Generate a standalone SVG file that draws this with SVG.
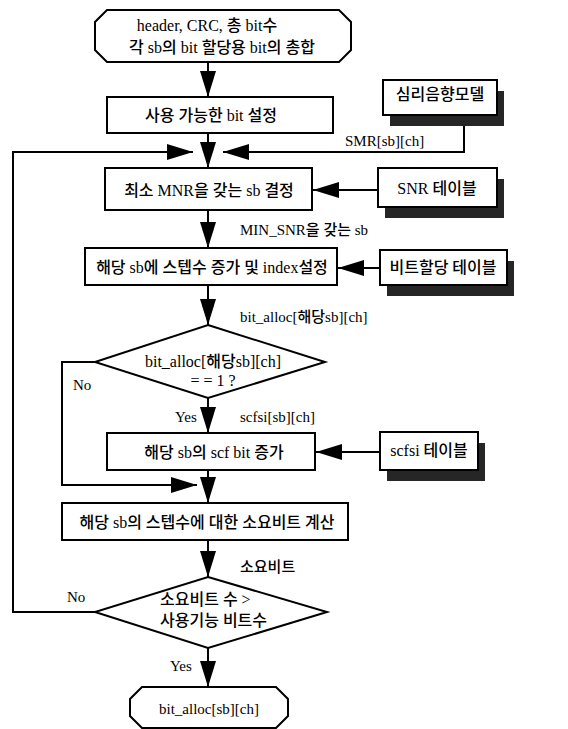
<svg xmlns="http://www.w3.org/2000/svg" width="568" height="729" viewBox="0 0 568 729">
<style>
  .shape { fill: #fff; stroke: #000; stroke-width: 2; }
  .shadow { fill: #262626; stroke: none; }
  .conn { fill: none; stroke: #000; stroke-width: 2; }
  text { font-family: "Liberation Serif", "Noto Sans CJK KR", serif; font-size: 16px; font-weight: 500; fill: #000; }
  .lbl { font-size: 15px; }
  .c { text-anchor: middle; }
</style>
<defs>
  <marker id="arr" markerUnits="userSpaceOnUse" markerWidth="27" markerHeight="16" refX="26" refY="8" orient="auto">
    <path d="M0,0 L26,8 L0,16 Z" fill="#000"/>
  </marker>
</defs>
<rect width="568" height="729" fill="#fff"/>

<g id="connectors">
  <line class="conn" x1="208" y1="62" x2="208" y2="97" marker-end="url(#arr)"/>
  <line class="conn" x1="208" y1="133" x2="208" y2="168" marker-end="url(#arr)"/>
  <path class="conn" d="M95,612 H13 V152 H193" marker-end="url(#arr)"/>
  <path class="conn" d="M464,115 V152 H223" marker-end="url(#arr)"/>
  <line class="conn" x1="378" y1="190" x2="313" y2="190" marker-end="url(#arr)"/>
  <line class="conn" x1="208" y1="210" x2="208" y2="248" marker-end="url(#arr)"/>
  <line class="conn" x1="380" y1="268" x2="338" y2="268" marker-end="url(#arr)"/>
  <line class="conn" x1="208" y1="285" x2="208" y2="325" marker-end="url(#arr)"/>
  <line class="conn" x1="208" y1="398" x2="208" y2="433" marker-end="url(#arr)"/>
  <path class="conn" d="M95,362 H62 V485 H197" marker-end="url(#arr)"/>
  <line class="conn" x1="380" y1="452" x2="316" y2="452" marker-end="url(#arr)"/>
  <line class="conn" x1="208" y1="470" x2="208" y2="503" marker-end="url(#arr)"/>
  <line class="conn" x1="208" y1="540" x2="208" y2="577" marker-end="url(#arr)"/>
  <line class="conn" x1="208" y1="648" x2="208" y2="687" marker-end="url(#arr)"/>
  <text class="lbl" x="345" y="146">SMR[sb][ch]</text>
  <text class="lbl" x="240" y="235">MIN_SNR을 갖는 sb</text>
  <text class="lbl" x="240" y="322">bit_alloc[해당sb][ch]</text>
  <text class="lbl" x="73" y="390">No</text>
  <text class="lbl" x="175" y="422">Yes</text>
  <text class="lbl" x="240" y="422">scfsi[sb][ch]</text>
  <text class="lbl" x="240" y="572">소요비트</text>
  <text class="lbl" x="67" y="602">No</text>
  <text class="lbl" x="170" y="671">Yes</text>
</g>

<g id="start">
  <polygon class="shape" points="107,10 339,10 351,22 351,50 339,62 107,62 95,50 95,22"/>
  <text class="c" x="207" y="31">header, CRC, 총 bit수</text>
  <text class="c" x="222" y="53">각 sb의 bit 할당용 bit의 총합</text>
</g>

<g id="set-bits">
  <rect class="shape" x="107" y="97" width="226" height="36"/>
  <text class="c" x="211" y="121">사용 가능한 bit 설정</text>
</g>

<g id="psy-model">
  <rect class="shadow" x="390" y="91" width="114" height="35"/>
  <rect class="shape" x="383" y="80" width="114" height="35"/>
  <text class="c" x="440" y="100">심리음향모델</text>
</g>

<g id="min-mnr">
  <rect class="shape" x="105" y="168" width="207" height="42"/>
  <text class="c" x="209" y="196">최소 MNR을 갖는 sb 결정</text>
</g>

<g id="snr-table">
  <rect class="shadow" x="385" y="179" width="119" height="39"/>
  <rect class="shape" x="378" y="168" width="119" height="39"/>
  <text class="c" x="437" y="194">SNR 테이블</text>
</g>

<g id="inc-step">
  <rect class="shape" x="85" y="248" width="252" height="37"/>
  <text class="c" x="212" y="273">해당 sb에 스텝수 증가 및 index설정</text>
</g>

<g id="alloc-table">
  <rect class="shadow" x="387" y="261" width="127" height="35"/>
  <rect class="shape" x="380" y="250" width="127" height="35"/>
  <text class="c" x="443" y="273">비트할당 테이블</text>
</g>

<g id="check-alloc">
  <polygon class="shape" points="208,325 325,362 208,398 95,362"/>
  <text class="c" x="213" y="367">bit_alloc[해당sb][ch]</text>
  <text class="c" x="213" y="386">= = 1 ?</text>
</g>

<g id="inc-scf">
  <rect class="shape" x="107" y="433" width="208" height="37"/>
  <text class="c" x="214" y="458">해당 sb의 scf bit 증가</text>
</g>

<g id="scfsi-table">
  <rect class="shadow" x="387" y="443" width="98" height="38"/>
  <rect class="shape" x="380" y="432" width="98" height="38"/>
  <text class="c" x="429" y="456">scfsi 테이블</text>
</g>

<g id="calc-bits">
  <rect class="shape" x="62" y="503" width="286" height="37"/>
  <text class="c" x="207" y="528">해당 sb의 스텝수에 대한 소요비트 계산</text>
</g>

<g id="check-bits">
  <polygon class="shape" points="208,577 327,612 208,648 95,612"/>
  <text x="160" y="605">소요비트 수 &gt;</text>
  <text x="160" y="626">사용기능 비트수</text>
</g>

<g id="end">
  <polygon class="shape" points="142,687 276,687 288,699 288,716 276,728 142,728 130,716 130,699"/>
  <text class="c" x="209" y="714" style="font-size:15px">bit_alloc[sb][ch]</text>
</g>
</svg>
